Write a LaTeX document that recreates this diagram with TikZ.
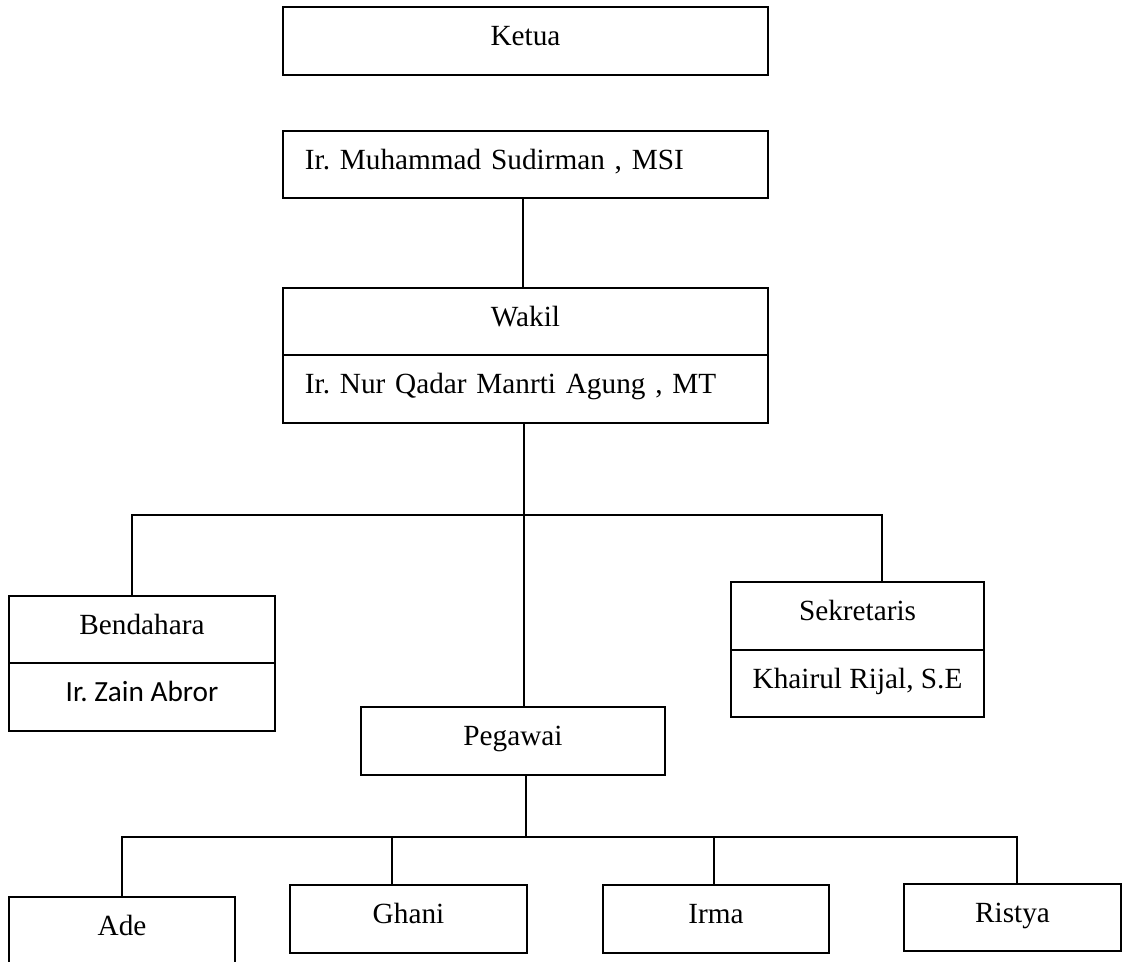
\documentclass[tikz,border=0pt]{standalone}
\usepackage{fontspec}
\setmainfont{Liberation Serif}
\newfontfamily\calibri{Carlito}
\usetikzlibrary{positioning}
\frenchspacing
\begin{document}
\begin{tikzpicture}[x=0.41pt,y=-0.41pt,
    box/.style={draw,line width=0.8pt,inner sep=0pt,outer sep=0pt,minimum height=27.675pt,
      text height=3.7pt,text depth=0pt,font=\fontsize{12}{14}\selectfont},
    leftbox/.style={box,text width=180.85pt,align=left,inner xsep=9pt},
    link/.style={line width=0.7pt}]
    \useasboundingbox (0,0) rectangle (1129,961);
    \clip (0,0) rectangle (1129,961);
    \path (525.5,41) node [box,minimum width=198.85pt](ketua){Ketua};
    \path (525.5,164.5) node [leftbox](sudirman){Ir. Muhammad Sudirman , MSI};
    \path (525.5,321.5) node [box,minimum width=198.85pt](wakil){Wakil};
    \node [leftbox,below=0pt of wakil](wakilname){Ir. Nur Qadar Manrti Agung , MT};
    \path (142,629.5) node [box,minimum width=109.06pt](bendahara){Bendahara};
    \node [box,minimum width=109.06pt,below=0pt of bendahara,font=\calibri\fontsize{12}{14}\selectfont](bendaharaname){Ir. Zain Abror};
    \path (857.5,616) node [box,minimum width=103.73pt](sekretaris){Sekretaris};
    \node [box,minimum width=103.73pt,below=0pt of sekretaris](sekretarisname){Khairul Rijal, S.E};
    \path (513,741) node [box,minimum width=124.64pt](pegawai){Pegawai};
    \path (122,931) node [box,minimum width=92.66pt](ade){Ade};
    \path (408.5,919) node [box,minimum width=97.17pt](ghani){Ghani};
    \path (716,919) node [box,minimum width=92.66pt](irma){Irma};
    \path (1012.5,917.5) node [box,minimum width=88.97pt](ristya){Ristya};
    \coordinate (top) at (523,200);
    \coordinate (bus) at (524,515);
    \coordinate (b1) at (132,515);
    \coordinate (s1) at (882,515);
    \coordinate (staff) at (526,837);
    \coordinate (a1) at (122,837);
    \coordinate (g1) at (392,837);
    \coordinate (i1) at (714,837);
    \coordinate (r1) at (1017,837);
    \draw[link] (sudirman.south -| top) -- (wakil.north -| top);
    \draw[link] (wakilname.south -| bus) -- (pegawai.north -| bus);
    \draw[link] (b1 |- bendahara.north) -- (b1) -- (s1) -- (s1 |- sekretaris.north);
    \draw[link] (pegawai.south -| staff) -- (staff);
    \draw[link] (a1 |- ade.north) -- (a1) -- (r1) -- (r1 |- ristya.north);
    \draw[link] (g1) -- (g1 |- ghani.north);
    \draw[link] (i1) -- (i1 |- irma.north);
\end{tikzpicture}
\end{document}
